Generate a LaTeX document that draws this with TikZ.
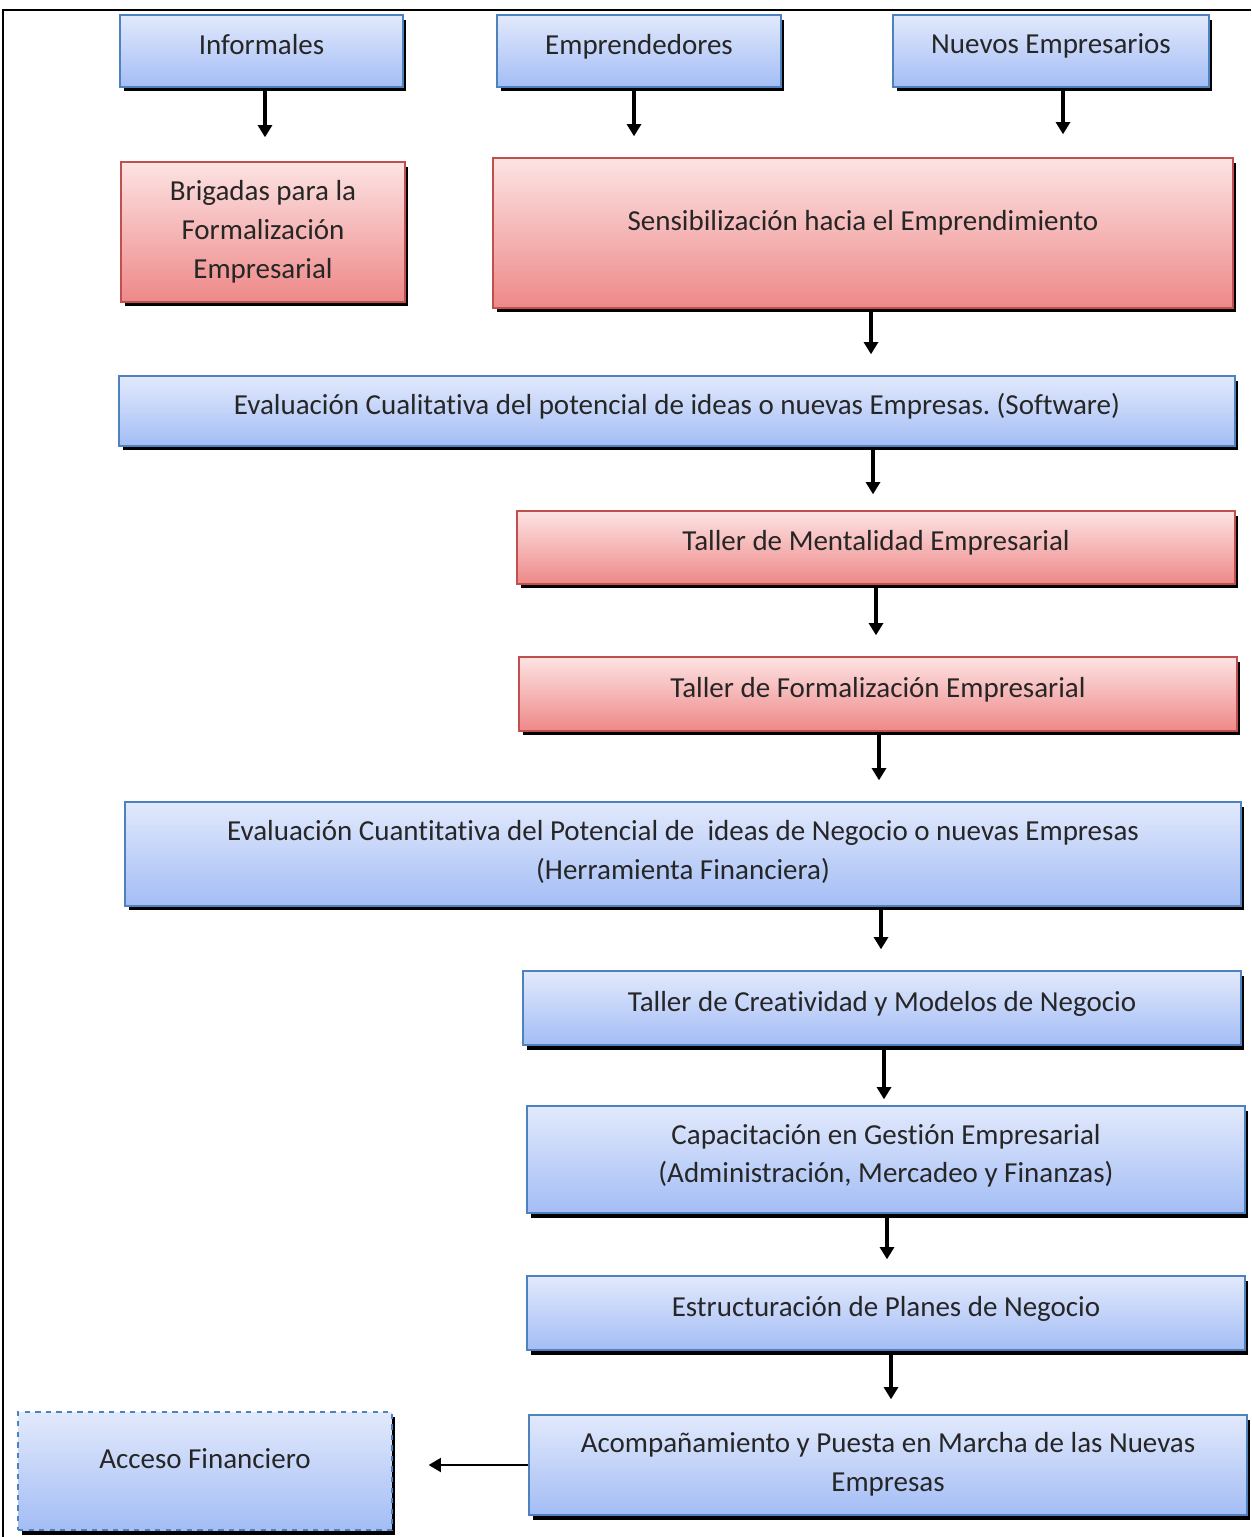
\documentclass[tikz,border=0pt]{standalone}
\usepackage{fontspec}
\setmainfont{Carlito}[Ligatures={NoCommon}]
\frenchspacing
\usetikzlibrary{arrows.meta,shadows}
\definecolor{bluetop}{HTML}{E2E9FC}
\definecolor{bluebot}{HTML}{A3BDF5}
\definecolor{blueline}{HTML}{4F81BD}
\definecolor{redtop}{HTML}{FDE3E3}
\definecolor{redbot}{HTML}{EE8888}
\definecolor{redline}{HTML}{C0504D}
\tikzstyle{every node}=[font=\fontsize{16.5}{22}\selectfont, text=black!85]
\tikzstyle{box}=[rectangle, draw, line width=0.8pt, align=center, inner sep=2pt, text depth=0.28cm,
  drop shadow={shadow xshift=0.07cm, shadow yshift=-0.09cm, fill=black, opacity=1}]
\tikzstyle{bluebox}=[box, draw=blueline, top color=bluetop, bottom color=bluebot]
\tikzstyle{redbox}=[box, draw=redline, top color=redtop, bottom color=redbot]
\tikzstyle{flow}=[line width=1.8pt, -{Triangle[width=8pt,length=7pt]}, shorten >=0.42cm]

\begin{document}
\begin{tikzpicture}[x=0.02cm, y=-0.02cm]
  \useasboundingbox (0,0) rectangle (1251,1537);
  % frame
  \draw[line width=1.1pt] (3,1537) -- (3,10) -- (1251,10);

  % entradas
  \node[bluebox, minimum width=5.66cm, minimum height=1.44cm] (inf) at (261.5,51) {Informales};
  \node[bluebox, minimum width=5.68cm, minimum height=1.44cm] (emp) at (639,51) {Emprendedores};
  \node[bluebox, minimum width=6.32cm, minimum height=1.44cm] (nue) at (1051,51) {Nuevos Empresarios};

  \node[redbox, text depth=0.1cm, minimum width=5.68cm, minimum height=2.8cm] (brig) at (263,232)
    {Brigadas para la\\Formalización\\Empresarial};
  \node[redbox, text depth=0.52cm, minimum width=14.8cm, minimum height=3cm] (sens) at (863,233)
    {Sensibilización hacia el Emprendimiento};

  % ruta
  \node[bluebox, minimum width=22.32cm, minimum height=1.4cm] (evcual) at (677,411)
    {Evaluación Cualitativa del potencial de ideas o nuevas Empresas. (Software)};
  \node[redbox, minimum width=14.36cm, minimum height=1.46cm] (tment) at (876,547.5)
    {Taller de Mentalidad Empresarial};
  \node[redbox, minimum width=14.36cm, minimum height=1.48cm] (tform) at (878,694)
    {Taller de Formalización Empresarial};
  \node[bluebox, text depth=0.16cm, minimum width=22.32cm, minimum height=2.08cm] (evcuan) at (683,854)
    {Evaluación Cuantitativa del Potencial de \ ideas de Negocio o nuevas Empresas\\(Herramienta Financiera)};
  \node[bluebox, minimum width=14.36cm, minimum height=1.48cm] (tcrea) at (882,1008)
    {Taller de Creatividad y Modelos de Negocio};
  \node[bluebox, text depth=0.24cm, minimum width=14.36cm, minimum height=2.14cm] (capac) at (886,1159.5)
    {Capacitación en Gestión Empresarial\\(Administración, Mercadeo y Finanzas)};
  \node[bluebox, minimum width=14.36cm, minimum height=1.48cm] (estru) at (886,1313)
    {Estructuración de Planes de Negocio};
  \node[bluebox, text depth=0.12cm, minimum width=14.36cm, minimum height=2cm] (acomp) at (888,1465)
    {Acompañamiento y Puesta en Marcha de las Nuevas\\Empresas};
  \node[bluebox, dashed, text depth=0.48cm, minimum width=7.48cm, minimum height=2.36cm] (acceso) at (205,1471)
    {Acceso Financiero};

  % flechas
  \draw[flow, shorten >=0.48cm] (inf.south -| 265,0) -- (brig.north -| 265,0);
  \draw[flow] (emp.south -| 634,0) -- (sens.north -| 634,0);
  \draw[flow, shorten >=0.46cm] (nue.south -| 1063,0) -- (sens.north -| 1063,0);
  \draw[flow] (sens.south -| 871,0) -- (evcual.north -| 871,0);
  \draw[flow, shorten >=0.32cm] (evcual.south -| 873,0) -- (tment.north -| 873,0);
  \draw[flow] (tment.south) -- (tform.north -| tment);
  \draw[flow] (tform.south -| 879,0) -- (evcuan.north -| 879,0);
  \draw[flow] (evcuan.south -| 881,0) -- (tcrea.north -| 881,0);
  \draw[flow, shorten >=0.12cm] (tcrea.south -| 884,0) -- (capac.north -| 884,0);
  \draw[flow, shorten >=0.32cm] (capac.south -| 887,0) -- (estru.north -| 887,0);
  \draw[flow, shorten >=0.3cm] (estru.south -| 891,0) -- (acomp.north -| 891,0);
  \draw[flow, line width=1.1pt, shorten >=0.72cm] (acomp.west) -- (acceso.east |- acomp.west);
\end{tikzpicture}
\end{document}
